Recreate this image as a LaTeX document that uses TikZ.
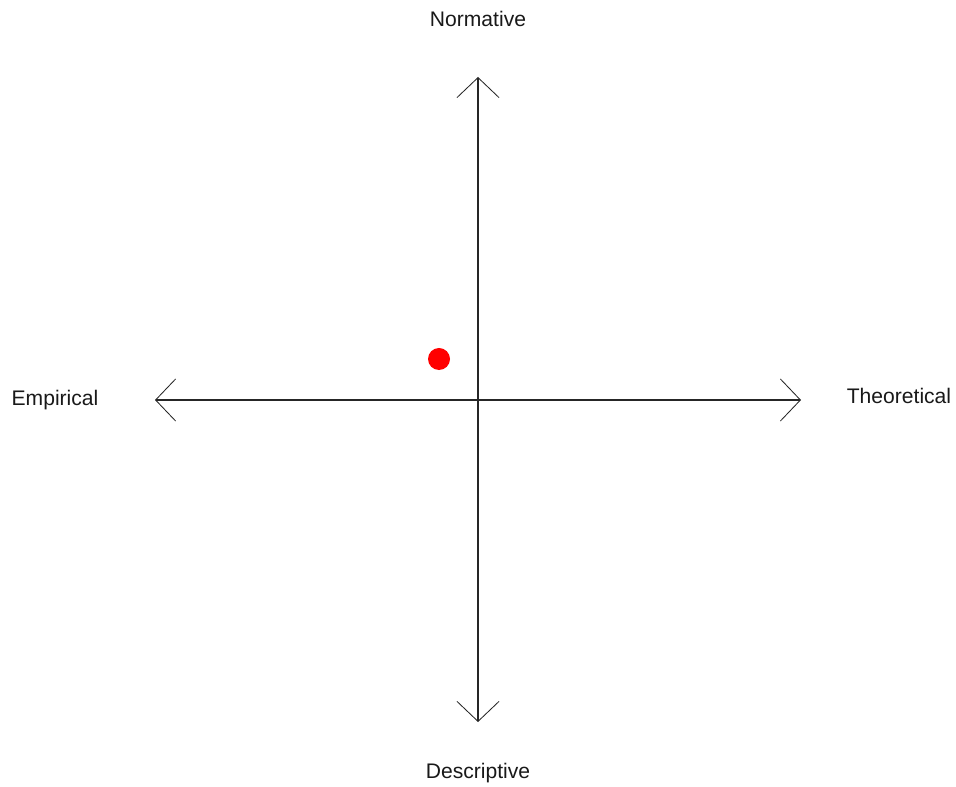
\documentclass[tikz,border=0pt]{standalone}
\usepackage{fontspec}
\setmainfont{Liberation Sans}
\usepackage{tikz}
\usetikzlibrary{arrows.meta, positioning}

\begin{document}
\begin{tikzpicture}[
  x=0.025cm, y=-0.025cm,
  axis/.style   = {draw=black!85, line width=0.9pt,
                   {Straight Barb[length=0.5cm, width=1.05cm, line width=0.6pt]}-{Straight Barb[length=0.5cm, width=1.05cm, line width=0.6pt]}},
  pole/.style   = {font=\fontsize{15}{18}\selectfont, text=black!90, inner sep=0pt},
  spot/.style   = {circle, fill=red, draw=none, minimum size=0.55cm, inner sep=0pt}
]
\useasboundingbox (0,0) rectangle (956,787);

% axis ends
\coordinate (top)    at (478,77);
\coordinate (bottom) at (478,722);
\coordinate (left)   at (155,400);
\coordinate (right)  at (801,400);

% axes
\draw[axis] (bottom) -- (top);
\draw[axis] (left) -- (right);

% labels
\node[pole] (norm)  at (478,19)  {Normative};
\node[pole] (descr) at (478,773) {Descriptive};
\node[pole] (emp)   at (55,400)  {Empirical};
\node[pole] (theo)  at (899,396) {Theoretical};

% position
\node[spot] (pos) at (439,359) {};
\end{tikzpicture}
\end{document}
